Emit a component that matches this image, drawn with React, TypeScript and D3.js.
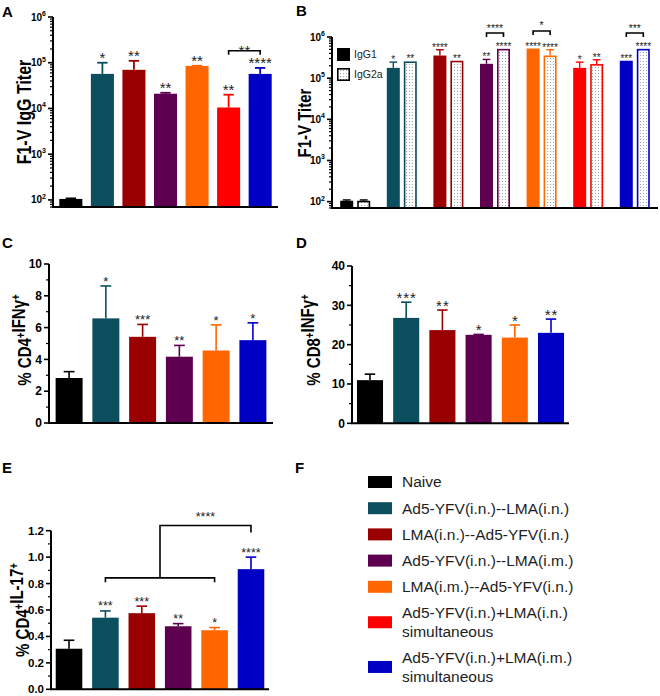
import React, { useRef, useEffect } from "react";
import * as d3 from "d3";

// groups (legend order)
const groupNames = [
  "Naive",
  "Ad5-YFV(i.n.)--LMA(i.n.)",
  "LMA(i.n.)--Ad5-YFV(i.n.)",
  "Ad5-YFV(i.n.)--LMA(i.m.)",
  "LMA(i.m.)--Ad5-YFV(i.n.)",
  "Ad5-YFV(i.n.)+LMA(i.n.)\nsimultaneous",
  "Ad5-YFV(i.n.)+LMA(i.m.)\nsimultaneous",
];
const groupColors = ["#000000", "#0b4f5e", "#9b0000", "#5e004f", "#ff6600", "#ff0000", "#0000c4"];

// A: total IgG titer (mean, upper error)
const iggTiter = [105, 57000, 70000, 21000, 85000, 10500, 57000];
const iggTiterErr = [108, 100000, 110000, 22000, 86000, 20000, 77000];
const iggSig = ["", "*", "**", "**", "**", "**", "****"];

// B: IgG1 / IgG2a titers
const subclasses = ["IgG1", "IgG2a"];
const igg1Titer = [105, 178000, 355000, 223000, 525000, 178000, 265000];
const igg1Err = [110, 245000, 490000, 285000, 525000, 245000, 265000];
const igg1Sig = ["", "*", "****", "**", "****", "*", "***"];
const igg2aTiter = [105, 255000, 265000, 515000, 355000, 220000, 515000];
const igg2aErr = [110, 255000, 265000, 515000, 490000, 280000, 515000];
const igg2aSig = ["", "**", "**", "****", "****", "**", "****"];
// IgG1 vs IgG2a comparisons: group index, bracket level (titer), label
const subclassComparisons = [
  { group: 3, level: 1250000, label: "****" },
  { group: 4, level: 1400000, label: "*" },
  { group: 6, level: 1250000, label: "***" },
];

// C-E use six groups (no i.n.+i.n. simultaneous)
const cellGroups = [0, 1, 2, 3, 4, 6];
const cd4Ifng = [2.83, 6.58, 5.42, 4.17, 4.56, 5.21];
const cd4IfngErr = [3.23, 8.62, 6.2, 4.88, 6.17, 6.3];
const cd4IfngSig = ["", "*", "***", "**", "*", "*"];
const cd8Infg = [10.97, 26.8, 23.7, 22.5, 21.8, 23.0];
const cd8InfgErr = [12.5, 30.8, 28.8, 22.6, 25.0, 26.5];
const cd8InfgSig = ["", "***", "**", "*", "*", "**"];
const cd4Il17 = [0.307, 0.542, 0.576, 0.477, 0.447, 0.909];
const cd4Il17Err = [0.371, 0.593, 0.629, 0.497, 0.467, 1.0];
const cd4Il17Sig = ["", "***", "***", "**", "*", "****"];

const FONT = "'Liberation Sans', Arial, Helvetica, sans-serif";

function yAxis(g, y, x0, baseY, major, minor, fontSize, fmt) {
  g.append("line")
    .attr("x1", x0).attr("x2", x0)
    .attr("y1", y.range()[1]).attr("y2", baseY)
    .attr("stroke", "#000").attr("stroke-width", 2);
  minor.forEach((v) => {
    g.append("line")
      .attr("x1", x0 - 3).attr("x2", x0)
      .attr("y1", y(v)).attr("y2", y(v))
      .attr("stroke", "#000").attr("stroke-width", 1.2);
  });
  major.forEach((v) => {
    g.append("line")
      .attr("x1", x0 - 5).attr("x2", x0)
      .attr("y1", y(v)).attr("y2", y(v))
      .attr("stroke", "#000").attr("stroke-width", 1.6);
    const t = g.append("text")
      .attr("x", x0 - 7).attr("y", y(v))
      .attr("dy", "0.35em")
      .attr("text-anchor", "end")
      .attr("font-family", FONT)
      .attr("font-weight", "bold")
      .attr("font-size", fontSize);
    fmt(t, v);
  });
}

function xAxisLine(g, x0, x1, baseY) {
  g.append("line")
    .attr("x1", x0 - 1).attr("x2", x1)
    .attr("y1", baseY).attr("y2", baseY)
    .attr("stroke", "#000").attr("stroke-width", 2);
}

function logLabel(t, v) {
  t.text("10");
  t.append("tspan")
    .attr("dy", -4.5)
    .attr("font-size", 7)
    .text(Math.round(Math.log10(v)));
}

function richText(t, parts) {
  parts.forEach(([s, sup]) => {
    t.append("tspan")
      .attr("dy", sup ? "-0.45em" : null)
      .attr("font-size", sup ? "0.65em" : null)
      .text(s);
    if (sup) t.append("tspan").attr("dy", "0.45em").text("");
  });
}

function yTitle(svg, cx, cy, size, parts) {
  const t = svg.append("text")
    .attr("transform", `translate(${cx},${cy}) rotate(-90) scale(1,1.25)`)
    .attr("y", size * 0.36)
    .attr("text-anchor", "middle")
    .attr("font-family", FONT)
    .attr("font-weight", "bold")
    .attr("font-size", size);
  richText(t, parts);
}

function bars(g, x, y, baseY, keys, values, errs, colors, opts) {
  const { starSize, starDy, capFrac = 0.45, sigs, fill, errWidth = 1.6, spacing = 0 } = opts;
  keys.forEach((k, i) => {
    const bx = x(k);
    const bw = x.bandwidth();
    const top = y(values[i]);
    if (fill) {
      g.append("rect")
        .attr("x", bx + 0.8).attr("y", top + 0.8)
        .attr("width", bw - 1.6).attr("height", baseY - top - 0.8)
        .attr("fill", fill).attr("stroke", colors[i]).attr("stroke-width", 1.6);
    } else {
      g.append("rect")
        .attr("x", bx).attr("y", top)
        .attr("width", bw).attr("height", baseY - top)
        .attr("fill", colors[i]);
    }
    const cx = bx + bw / 2;
    const ey = y(errs[i]);
    if (errs[i] > values[i]) {
      g.append("line")
        .attr("x1", cx).attr("x2", cx).attr("y1", top).attr("y2", ey)
        .attr("stroke", colors[i]).attr("stroke-width", errWidth);
      g.append("line")
        .attr("x1", cx - bw * capFrac / 2).attr("x2", cx + bw * capFrac / 2)
        .attr("y1", ey).attr("y2", ey)
        .attr("stroke", colors[i]).attr("stroke-width", errWidth);
    }
    if (sigs[i]) {
      g.append("text")
        .attr("x", cx + spacing / 2).attr("y", ey + starDy)
        .attr("text-anchor", "middle")
        .attr("font-family", FONT)
        .attr("font-size", starSize)
        .attr("letter-spacing", spacing)
        .attr("fill", "#222")
        .text(sigs[i]);
    }
  });
}

function bracket(g, xa, xb, yLine, feet, label, size, labelDy) {
  g.append("path")
    .attr("d", `M${xa},${yLine + feet}V${yLine}H${xb}V${yLine + feet}`)
    .attr("fill", "none").attr("stroke", "#000").attr("stroke-width", 1.6);
  g.append("text")
    .attr("x", (xa + xb) / 2).attr("y", yLine + labelDy)
    .attr("text-anchor", "middle")
    .attr("font-family", FONT)
    .attr("font-size", size)
    .attr("fill", "#222")
    .text(label);
}

function panelLetter(svg, x, y, s) {
  svg.append("text")
    .attr("x", x).attr("y", y)
    .attr("font-family", FONT).attr("font-weight", "bold").attr("font-size", 15)
    .text(s);
}

const Figure = () => {
  const ref = useRef(null);

  useEffect(() => {
    const svg = d3.select(ref.current);
    svg.selectAll("*").remove();

    const defs = svg.append("defs");
    const pat = defs.append("pattern")
      .attr("id", "dots").attr("width", 3).attr("height", 3)
      .attr("patternUnits", "userSpaceOnUse");
    pat.append("rect").attr("width", 3).attr("height", 3).attr("fill", "#fff");
    pat.append("rect").attr("x", 1).attr("y", 1).attr("width", 1).attr("height", 1).attr("fill", "#a0a0a0");

    const logMinor = [];
    for (let d = 1; d <= 5; d++) {
      for (let m = 2; m <= 9; m++) {
        const v = m * Math.pow(10, d);
        if (v >= 70 && v < 1e6) logMinor.push(v);
      }
    }
    const logMajor = [1e2, 1e3, 1e4, 1e5, 1e6];

    // ---------- A ----------
    const gA = svg.append("g");
    const yA = d3.scaleLog().domain([70, 1e6]).range([207, 17]);
    const xA = d3.scaleBand().domain(groupNames).range([53, 278]).paddingInner(0.27).paddingOuter(0.2);
    bars(gA, xA, yA, 207, groupNames, iggTiter, iggTiterErr, groupColors, {
      starSize: 15, starDy: 0.5, sigs: iggSig, errWidth: 1.8,
    });
    bracket(gA, xA(groupNames[5]) + xA.bandwidth() / 2, xA(groupNames[6]) + xA.bandwidth() / 2,
      yA(183000), 4, "**", 15, 4.8);
    yAxis(gA, yA, 53, 207, logMajor, logMinor, 10, logLabel);
    xAxisLine(gA, 53, 278, 207);
    yTitle(svg, 24, 112, 16, [["F1-V IgG Titer", false]]);

    // ---------- B ----------
    const gB = svg.append("g");
    const yB = d3.scaleLog().domain([70, 1e6]).range([208, 37]);
    const xB = d3.scaleBand().domain(groupNames).range([332, 658]).paddingInner(0.356).paddingOuter(0.176);
    const xSub = d3.scaleBand().domain(subclasses).range([0, xB.bandwidth()]).paddingInner(0.235);
    groupNames.forEach((name, i) => {
      const xs = xSub.copy().range([xB(name), xB(name) + xB.bandwidth()]);
      bars(gB, xs, yB, 208, ["IgG1"], [igg1Titer[i]], [igg1Err[i]], [groupColors[i]], {
        starSize: 10, starDy: 1, sigs: [igg1Sig[i]], errWidth: 1.4, capFrac: 0.6,
      });
      bars(gB, xs, yB, 208, ["IgG2a"], [igg2aTiter[i]], [igg2aErr[i]], [groupColors[i]], {
        starSize: 10, starDy: 1, sigs: [igg2aSig[i]], errWidth: 1.4, capFrac: 0.6, fill: "url(#dots)",
      });
    });
    subclassComparisons.forEach((c) => {
      const name = groupNames[c.group];
      const xs = xSub.copy().range([xB(name), xB(name) + xB.bandwidth()]);
      bracket(gB, xs("IgG1") + xs.bandwidth() / 2, xs("IgG2a") + xs.bandwidth() / 2,
        yB(c.level), 4, c.label, 10.5, -1.5);
    });
    yAxis(gB, yB, 332, 208, logMajor, logMinor, 10, logLabel);
    xAxisLine(gB, 332, 658, 208);
    yTitle(svg, 304, 123, 15, [["F1-V Titer", false]]);
    // B legend
    const lgB = svg.append("g");
    subclasses.forEach((s, i) => {
      const yy = 48 + i * 20;
      lgB.append("rect")
        .attr("x", 337.8).attr("y", yy + 0.8).attr("width", 11.4).attr("height", 11.4)
        .attr("fill", i === 0 ? "#000" : "url(#dots)")
        .attr("stroke", "#000").attr("stroke-width", 1.6);
      lgB.append("text")
        .attr("x", 354).attr("y", yy + 6.5).attr("dy", "0.35em")
        .attr("font-family", FONT).attr("font-size", 10.5).attr("fill", "#222")
        .text(s);
    });

    const cellNames = cellGroups.map((i) => groupNames[i]);
    const cellColors = cellGroups.map((i) => groupColors[i]);

    // ---------- C ----------
    const gC = svg.append("g");
    const yC = d3.scaleLinear().domain([0, 10]).range([423, 264]);
    const xC = d3.scaleBand().domain(cellNames).range([49, 273]).paddingInner(0.266).paddingOuter(0.18);
    bars(gC, xC, yC, 423, cellNames, cd4Ifng, cd4IfngErr, cellColors, {
      starSize: 13, starDy: 0, sigs: cd4IfngSig, capFrac: 0.4,
    });
    yAxis(gC, yC, 49, 423, [0, 2, 4, 6, 8, 10], [1, 3, 5, 7, 9], 12, (t, v) => t.text(v));
    xAxisLine(gC, 49, 273, 423);
    yTitle(svg, 24, 340, 15, [["% CD4", false], ["+", true], ["IFNγ", false], ["+", true]]);

    // ---------- D ----------
    const gD = svg.append("g");
    const yD = d3.scaleLinear().domain([0, 40]).range([423.3, 266]);
    const xD = d3.scaleBand().domain(cellNames).range([352, 569]).paddingInner(0.28).paddingOuter(0.137);
    bars(gD, xD, yD, 423.3, cellNames, cd8Infg, cd8InfgErr, cellColors, {
      starSize: 15, starDy: 1, sigs: cd8InfgSig, capFrac: 0.4, spacing: 1,
    });
    yAxis(gD, yD, 352, 423.3, [0, 10, 20, 30, 40], [5, 15, 25, 35], 12, (t, v) => t.text(v));
    xAxisLine(gD, 352, 569, 423.3);
    yTitle(svg, 313, 340, 15, [["% CD8", false], ["+", true], ["INFγ", false], ["+", true]]);

    // ---------- E ----------
    const gE = svg.append("g");
    const yE = d3.scaleLinear().domain([0, 1.2]).range([689.3, 530.7]);
    const xE = d3.scaleBand().domain(cellNames).range([51, 269]).paddingInner(0.27).paddingOuter(0.13);
    bars(gE, xE, yE, 689.3, cellNames, cd4Il17, cd4Il17Err, cellColors, {
      starSize: 12.5, starDy: -0.5, sigs: cd4Il17Sig, capFrac: 0.4,
    });
    const cE = (k) => xE(cellNames[k]) + xE.bandwidth() / 2;
    // lower bracket spans groups 1..4, upper joins it to group 5
    const lowY = yE(0.843);
    const lowFeet = yE(0.81) - lowY;
    const midX = (cE(1) + cE(4)) / 2;
    gE.append("path")
      .attr("d", `M${cE(1)},${lowY + lowFeet}V${lowY}H${cE(4)}V${lowY + lowFeet}`)
      .attr("fill", "none").attr("stroke", "#000").attr("stroke-width", 1.6);
    const upY = yE(1.239);
    gE.append("path")
      .attr("d", `M${midX},${lowY}V${upY}H${cE(5)}V${yE(1.186)}`)
      .attr("fill", "none").attr("stroke", "#000").attr("stroke-width", 1.6);
    gE.append("text")
      .attr("x", (midX + cE(5)) / 2).attr("y", upY - 5)
      .attr("text-anchor", "middle")
      .attr("font-family", FONT).attr("font-size", 12.5).attr("fill", "#222")
      .text("****");
    yAxis(gE, yE, 51, 689.3, [0, 0.2, 0.4, 0.6, 0.8, 1.0, 1.2], [0.1, 0.3, 0.5, 0.7, 0.9, 1.1], 11.5,
      (t, v) => t.text(d3.format(".1f")(v)));
    xAxisLine(gE, 51, 269, 689.3);
    yTitle(svg, 22, 610, 15, [["% CD4", false], ["+", true], ["IL-17", false], ["+", true]]);

    // ---------- F legend ----------
    const gF = svg.append("g");
    let cursor = 482;
    groupNames.forEach((name, i) => {
      const lines = name.split("\n");
      const mid = cursor + ((lines.length - 1) * 18.5) / 2;
      gF.append("rect")
        .attr("x", 368).attr("y", mid - 6).attr("width", 24).attr("height", 12)
        .attr("fill", groupColors[i]);
      lines.forEach((ln, j) => {
        gF.append("text")
          .attr("x", 402).attr("y", cursor + j * 18.5).attr("dy", "0.35em")
          .attr("font-family", FONT).attr("font-size", 15.5).attr("fill", "#1e1e1e")
          .text(ln);
      });
      cursor += (lines.length - 1) * 18.5 + 26.2;
    });

    panelLetter(svg, 2, 17, "A");
    panelLetter(svg, 296, 16, "B");
    panelLetter(svg, 2, 248, "C");
    panelLetter(svg, 296, 248, "D");
    panelLetter(svg, 2, 473, "E");
    panelLetter(svg, 295, 473, "F");

    return () => {
      svg.selectAll("*").remove();
    };
  }, []);

  return (
    <svg
      ref={ref}
      width={660}
      height={696}
      style={{ position: "absolute", left: 0, top: 0, background: "#fff", display: "block" }}
    />
  );
};

export default function App() {
  return <Figure />;
}
